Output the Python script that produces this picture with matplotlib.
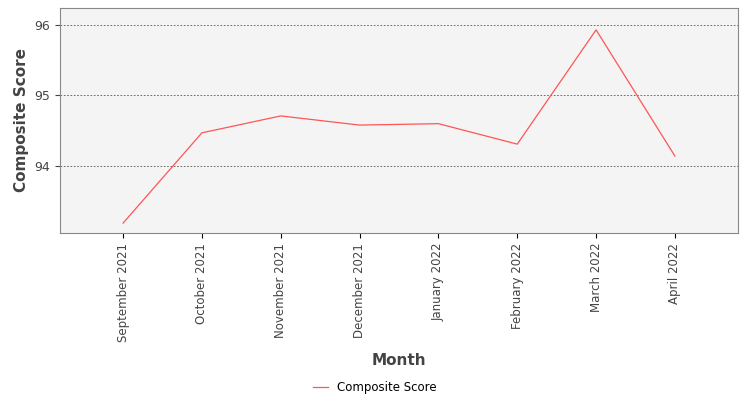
import matplotlib.pyplot as plt

months = ["September 2021", "October 2021", "November 2021", "December 2021",
          "January 2022", "February 2022", "March 2022", "April 2022"]
scores = [93.19, 94.47, 94.71, 94.58, 94.60, 94.31, 95.93, 94.14]

fig = plt.figure(figsize=(7.5, 4), dpi=100)
ax = fig.add_axes([0.08, 0.4175, 0.904, 0.5625])
ax.set_facecolor("#f4f4f4")

x = list(range(len(months)))
ax.plot(x, scores, color="#ff5555", linewidth=0.9, label="Composite Score")

ax.set_xlim(-0.8, 7.8)
ax.set_ylim(93.05, 96.24)
ax.set_yticks([94, 95, 96])
ax.set_xticks(x)
ax.set_xticklabels(months, rotation=90, fontsize=8.5, color="#444444")
ax.tick_params(axis="y", labelsize=9, colors="#444444")
ax.grid(axis="y", color="#555555", linestyle=(0, (2, 2)), linewidth=0.6)
ax.set_axisbelow(True)
for s in ax.spines.values():
    s.set_color("#888888")

ax.set_xlabel("Month", fontsize=11, fontweight="bold", color="#444444", labelpad=8)
ax.set_ylabel("Composite Score", fontsize=11, fontweight="bold", color="#444444")

fig.legend(loc="lower center", bbox_to_anchor=(0.5, -0.012), frameon=False,
           fontsize=8.5, handlelength=1.2)

fig.savefig("out.png", dpi=100)
